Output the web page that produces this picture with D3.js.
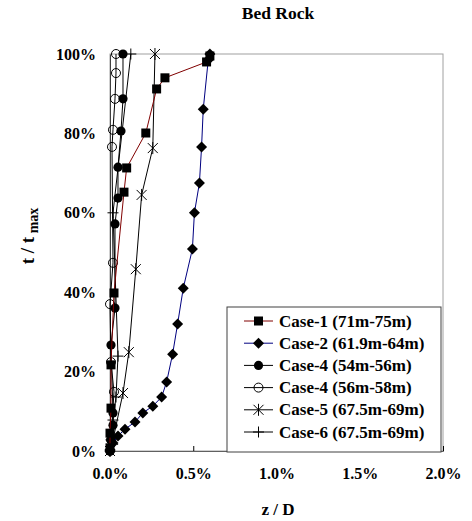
<!DOCTYPE html>
<html><head><meta charset="utf-8">
<script src="https://cdn.jsdelivr.net/npm/d3@7"></script>
<style>body{margin:0;background:#fff}svg{display:block}text{font-family:"Liberation Serif","Times New Roman",serif;font-weight:bold;fill:#000}</style>
</head><body><svg id="c" width="472" height="521"></svg>
<script>
// values: x = z/D in %, y = t/tmax in %
const seriesNames = ["Case-1 (71m-75m)","Case-2 (61.9m-64m)","Case-4 (54m-56m)","Case-4 (56m-58m)","Case-5 (67.5m-69m)","Case-6 (67.5m-69m)"];
const case1X = [0.0,0.0,0.006,0.006,0.024,0.084,0.10,0.215,0.28,0.33,0.58,0.60];
const case1Y = [0.8,4.5,10.8,21.7,39.8,65.2,71.3,80.1,91.2,94.0,98.0,99.5];
const case2X = [0.0,0.018,0.048,0.09,0.15,0.197,0.257,0.31,0.34,0.376,0.406,0.44,0.495,0.507,0.537,0.55,0.56,0.59,0.60];
const case2Y = [0.3,2.0,3.8,5.5,7.3,9.6,11.3,13.6,17.4,24.4,32.0,41.0,50.9,60.0,67.5,76.6,86.1,98.5,100];
const case4aX = [0.0,0.006,0.018,0.018,0.006,0.03,0.03,0.048,0.048,0.066,0.078,0.078];
const case4aY = [0.0,2.8,6.5,9.6,26.7,36.0,57.2,63.7,71.5,80.6,88.7,100];
const case4bX = [0.0,0.006,0.024,0.006,0.0,0.018,0.012,0.018,0.03,0.036,0.036];
const case4bY = [0.0,2.8,14.9,22.4,37.0,47.4,76.6,80.9,88.7,95.2,100];
const case5X = [0.0,0.018,0.078,0.113,0.155,0.19,0.257,0.27];
const case5Y = [0.0,2.8,14.6,24.9,45.8,64.5,76.3,100];
const case6X = [0.0,0.006,0.018,0.036,0.048,0.018,0.125];
const case6Y = [0.0,2.8,7.8,13.6,23.9,60.0,100];
const xTicks = [0,0.5,1.0,1.5,2.0];
const yTicks = [0,20,40,60,80,100];

const xs = [case1X,case2X,case4aX,case4bX,case5X,case6X];
const ys = [case1Y,case2Y,case4aY,case4bY,case5Y,case6Y];
const colors = ["#800000","#000080","#000","#000","#000","#000"];
const markers = ["square","diamond","dot","circle","star","plus"];

const svg = d3.select("#c");
const x = d3.scaleLinear().domain([0,2]).range([110,443]);
const y = d3.scaleLinear().domain([0,100]).range([451,54]);

// plot frame
svg.append("rect").attr("x",110).attr("y",54).attr("width",333).attr("height",397)
  .attr("fill","none").attr("stroke","#a0a0a0").attr("stroke-width",1);

// axes
const xAxis = svg.append("g").attr("transform","translate(0,451)")
  .call(d3.axisBottom(x).tickValues(xTicks).tickSize(-5).tickPadding(17).tickFormat(d=>d3.format(".1f")(d)+"%"));
xAxis.select(".domain").attr("stroke","#606060");
xAxis.selectAll(".tick line").attr("stroke","#000");
xAxis.selectAll("text").attr("font-size",16).attr("font-family","Liberation Serif").attr("font-weight","bold").attr("fill","#000");
const yAxis = svg.append("g").attr("transform","translate(110,0)")
  .call(d3.axisLeft(y).tickValues(yTicks).tickSize(0).tickPadding(14).tickFormat(d=>d+"%"));
yAxis.select(".domain").attr("stroke","#404040");
yAxis.selectAll("text").attr("font-size",16).attr("font-family","Liberation Serif").attr("font-weight","bold").attr("fill","#000");

const line = d3.line().x(d=>x(d[0])).y(d=>y(d[1]));

function drawMarker(g, type, cx, cy){
  if(type==="square") g.append("rect").attr("x",cx-4.5).attr("y",cy-4.5).attr("width",9).attr("height",9).attr("fill","#000");
  else if(type==="diamond") g.append("path").attr("d",`M${cx},${cy-5.5}L${cx+5.5},${cy}L${cx},${cy+5.5}L${cx-5.5},${cy}Z`).attr("fill","#000");
  else if(type==="dot") g.append("circle").attr("cx",cx).attr("cy",cy).attr("r",4.6).attr("fill","#000");
  else if(type==="circle") g.append("circle").attr("cx",cx).attr("cy",cy).attr("r",4.5).attr("fill","none").attr("stroke","#000").attr("stroke-width",1);
  else if(type==="star"){
    const r=5;
    g.append("path").attr("d",`M${cx-r},${cy-r}L${cx+r},${cy+r}M${cx-r},${cy+r}L${cx+r},${cy-r}M${cx},${cy-r-1}L${cx},${cy+r+1}`).attr("stroke","#000").attr("stroke-width",1).attr("fill","none");
  } else if(type==="plus"){
    const r=5.5;
    g.append("path").attr("d",`M${cx-r},${cy}L${cx+r},${cy}M${cx},${cy-r}L${cx},${cy+r}`).attr("stroke","#000").attr("stroke-width",1).attr("fill","none");
  }
}

const order = [5,4,3,2,1,0];
order.forEach(i=>{
  const pts = xs[i].map((v,j)=>[v,ys[i][j]]);
  const g = svg.append("g");
  g.append("path").attr("d",line(pts)).attr("fill","none").attr("stroke",colors[i]).attr("stroke-width",1);
  pts.forEach(p=>drawMarker(g,markers[i],x(p[0]),y(p[1])));
});

// legend
const lg = svg.append("g");
lg.append("rect").attr("x",227).attr("y",307).attr("width",214).attr("height",145)
  .attr("fill","#fff").attr("stroke","#404040").attr("stroke-width",1);
seriesNames.forEach((n,i)=>{
  const ly = 321 + i*22.2;
  lg.append("line").attr("x1",244).attr("x2",273).attr("y1",ly).attr("y2",ly).attr("stroke",colors[i]).attr("stroke-width",1);
  drawMarker(lg,markers[i],258.5,ly);
  lg.append("text").attr("x",279).attr("y",ly+5.5).attr("font-size",17).text(n);
});

// titles
svg.append("text").attr("x",278).attr("y",19).attr("text-anchor","middle").attr("font-size",17.5).text("Bed Rock");
svg.append("text").attr("x",278).attr("y",515).attr("text-anchor","middle").attr("font-size",17).text("z / D");
const yl = svg.append("text").attr("transform","translate(34,236) rotate(-90)").attr("text-anchor","middle").attr("font-size",19);
yl.append("tspan").text("t / t");
yl.append("tspan").attr("font-size",14).attr("dy",4).text(" max");
</script></body></html>
